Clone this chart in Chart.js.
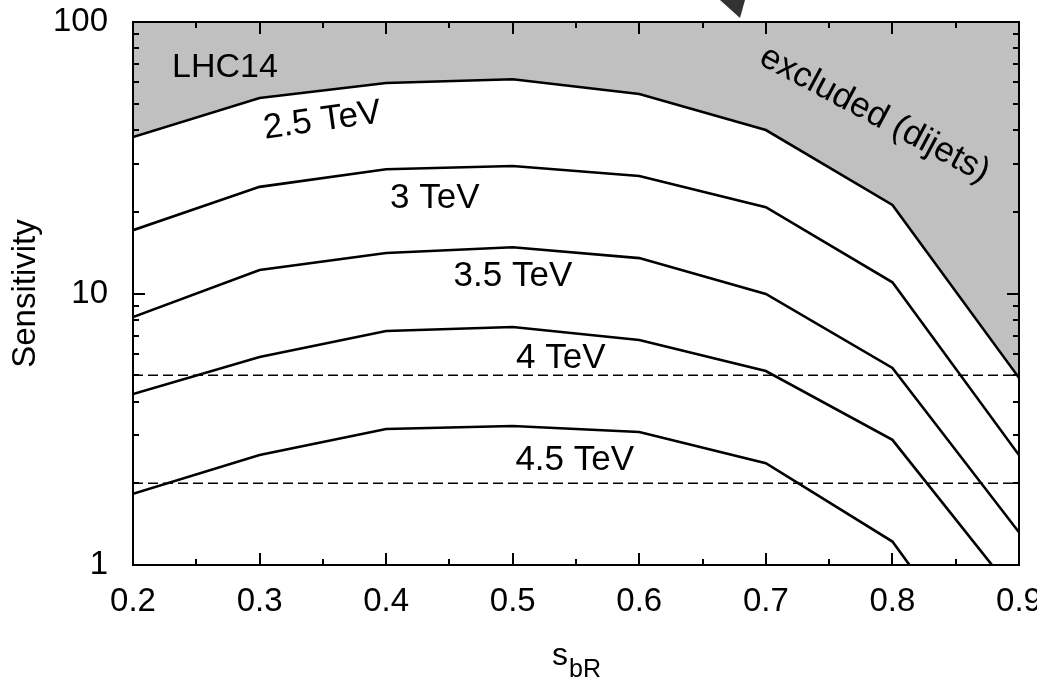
<!DOCTYPE html>
<html><head><meta charset="utf-8">
<script src="https://cdn.jsdelivr.net/npm/chart.js@4"></script>
<style>
html,body{margin:0;padding:0;overflow:hidden;background:#fff;width:1037px;height:682px}
#wrap{position:absolute;left:0;top:0;width:1060px;height:682px}
</style></head>
<body><div id="wrap"><canvas id="c" width="1060" height="682"></canvas></div>
<script>
// ---- data ----
const sbR = [0.2, 0.3, 0.4, 0.5, 0.6, 0.7, 0.8, 0.9];
const sens25 = [37.7, 52.5, 59.6, 61.5, 54.3, 40.0, 21.2, 4.89];
const sens30 = [17.1, 24.7, 28.7, 29.5, 27.1, 20.8, 11.0, 2.54];
const sens35 = [8.19, 12.2, 14.1, 14.8, 13.5, 9.96, 5.32, 1.32];
const sens40 = [4.26, 5.84, 7.28, 7.53, 6.74, 5.18, 2.89, 0.75];
const sens45 = [1.83, 2.54, 3.17, 3.25, 3.09, 2.37, 1.22, 0.28];
const thresholds = [5, 2];
const seriesNames = ['2.5 TeV', '3 TeV', '3.5 TeV', '4 TeV', '4.5 TeV'];
const yTickLabels = [1, 10, 100];
const xMinorStep = 0.05;

// annotation texts (positions in data coordinates)
const annotations = [
  {text: 'LHC14', x: 0.2727, y: 69.4, rot: 0, size: 34},
  {text: '2.5 TeV', x: 0.3493, y: 44.3, rot: -8, size: 35},
  {text: '3 TeV', x: 0.4385, y: 22.96, rot: 0, size: 35},
  {text: '3.5 TeV', x: 0.5002, y: 11.85, rot: 0, size: 35},
  {text: '4 TeV', x: 0.538, y: 5.935, rot: 0, size: 35},
  {text: '4.5 TeV', x: 0.549, y: 2.489, rot: 0, size: 35},
  {text: 'excluded (dijets)', x: 0.7869, y: 46.6, rot: 28, size: 35}
];

const FONT = '"Liberation Sans", Arial, sans-serif';
const pts = arr => sbR.map((x, i) => ({x, y: arr[i]}));
const allSeries = [sens25, sens30, sens35, sens40, sens45];

const datasets = allSeries.map((arr, i) => ({
  label: seriesNames[i],
  data: pts(arr),
  borderColor: '#000',
  borderWidth: 2.6,
  pointRadius: 0,
  tension: 0,
  fill: i === 0 ? 'end' : false,
  backgroundColor: '#c0c0c0'
}));
thresholds.forEach(t => datasets.push({
  label: 'threshold ' + t,
  data: sbR.map(x => ({x, y: t})),
  borderColor: '#000',
  borderWidth: 1.6,
  borderDash: [10, 5],
  pointRadius: 0,
  fill: false
}));

const decor = {
  id: 'decor',
  afterDatasetsDraw(chart) {
    const ctx = chart.ctx, xs = chart.scales.x, ys = chart.scales.y;
    ctx.save();
    ctx.fillStyle = '#000';
    annotations.forEach(a => {
      ctx.save();
      ctx.translate(xs.getPixelForValue(a.x), ys.getPixelForValue(a.y));
      ctx.rotate(a.rot * Math.PI / 180);
      ctx.font = a.size + 'px ' + FONT;
      ctx.textAlign = 'center';
      ctx.textBaseline = 'alphabetic';
      ctx.fillText(a.text, 0, 0.358 * a.size);
      ctx.restore();
    });
    ctx.restore();
  },
  afterDraw(chart) {
    const ctx = chart.ctx, xs = chart.scales.x, ys = chart.scales.y;
    const {left, right, top, bottom} = chart.chartArea;
    ctx.save();
    ctx.strokeStyle = '#000';
    ctx.lineWidth = 2;
    for (let v = xs.min; v <= xs.max + 1e-9; v += xMinorStep) {
      const r = Math.round(v * 100) / 100;
      const major = Math.abs(r * 10 - Math.round(r * 10)) < 1e-6;
      const len = major ? 12 : 6;
      const px = Math.round(xs.getPixelForValue(r));
      ctx.beginPath();
      ctx.moveTo(px, bottom); ctx.lineTo(px, bottom - len);
      ctx.moveTo(px, top); ctx.lineTo(px, top + len);
      ctx.stroke();
    }
    for (let d = 1; d < 100; d *= 10) {
      for (let m = 1; m <= 10; m++) {
        const v = d * m;
        const major = (m === 1 || m === 10);
        const len = major ? 12 : 6;
        const py = Math.round(ys.getPixelForValue(v));
        ctx.beginPath();
        ctx.moveTo(left, py); ctx.lineTo(left + len, py);
        ctx.moveTo(right, py); ctx.lineTo(right - len, py);
        ctx.stroke();
      }
    }
    ctx.strokeRect(left, top, right - left, bottom - top);
    ctx.fillStyle = '#000';
    ctx.save();
    ctx.translate(35, (top + bottom) / 2);
    ctx.rotate(-Math.PI / 2);
    ctx.font = '33px ' + FONT;
    ctx.textAlign = 'center';
    ctx.textBaseline = 'alphabetic';
    ctx.fillText('Sensitivity', 0, 0);
    ctx.restore();
    ctx.textAlign = 'left';
    ctx.textBaseline = 'alphabetic';
    ctx.font = '32px ' + FONT;
    const ws = ctx.measureText('s').width;
    ctx.font = '25px ' + FONT;
    const wb = ctx.measureText('bR').width;
    const sx = (left + right) / 2 - (ws + wb) / 2;
    ctx.font = '32px ' + FONT;
    ctx.fillText('s', sx, 665);
    ctx.font = '25px ' + FONT;
    ctx.fillText('bR', sx + ws + 1, 677);
    ctx.fillStyle = '#333';
    ctx.beginPath();
    ctx.moveTo(720, 0); ctx.lineTo(745, 0); ctx.lineTo(740, 18); ctx.closePath();
    ctx.fill();
    ctx.restore();
  }
};

new Chart(document.getElementById('c'), {
  type: 'line',
  data: {datasets},
  plugins: [decor],
  options: {
    responsive: false,
    devicePixelRatio: 1,
    animation: false,
    layout: {padding: {left: 0, right: 41, top: 0, bottom: 0}},
    plugins: {
      legend: {display: false},
      tooltip: {enabled: false},
      filler: {drawTime: 'beforeDatasetsDraw'}
    },
    scales: {
      x: {
        type: 'linear', min: 0.2, max: 0.9,
        grid: {display: false, drawTicks: false},
        border: {display: false},
        ticks: {
          stepSize: 0.1, padding: 17, color: '#000', autoSkip: false, maxRotation: 0,
          font: {family: FONT, size: 33},
          callback: v => (Math.round(v * 10) / 10).toFixed(1)
        },
        afterFit: s => { s.height = 117; }
      },
      y: {
        type: 'logarithmic', min: 1, max: 100,
        grid: {display: false, drawTicks: false},
        border: {display: false},
        ticks: {
          padding: 25, color: '#000', autoSkip: false,
          font: {family: FONT, size: 33},
          callback: v => yTickLabels.includes(Math.round(v * 1000) / 1000) ? String(Math.round(v)) : ''
        },
        afterFit: s => { s.width = 133; s.paddingTop = 22; s.paddingBottom = 0; }
      }
    }
  }
});
</script>
</body></html>
